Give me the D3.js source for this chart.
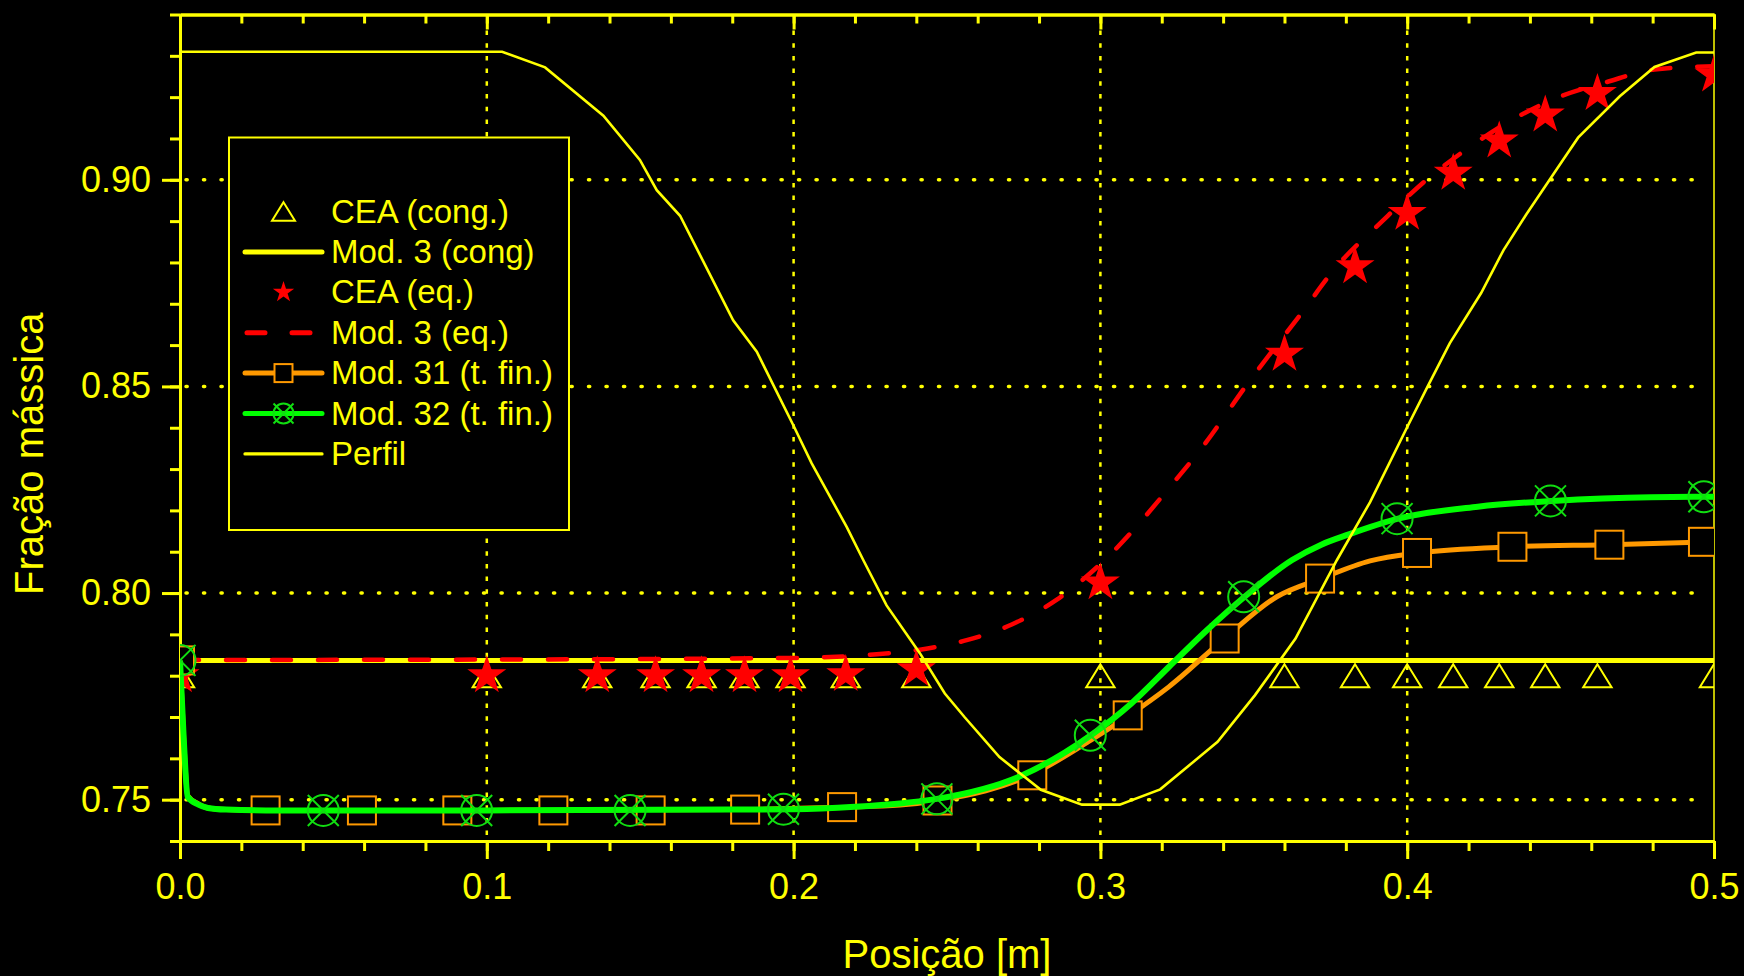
<!DOCTYPE html>
<html>
<head>
<meta charset="utf-8">
<script src="https://cdn.jsdelivr.net/npm/d3@7"></script>
<style>
  body { margin: 0; background: #000; }
  svg { display: block; }
</style>
</head>
<body>
<div id="chart"></div>
<script>
// axis ticks
const xMajorTicks = [0, 0.1, 0.2, 0.3, 0.4, 0.5];
const yMajorTicks = [0.75, 0.80, 0.85, 0.90];
const xGridTicks = [0.1, 0.2, 0.3, 0.4];

// CEA points (same positions for cong. and eq.)
const ceaX = [0, 0.1, 0.136, 0.155, 0.170, 0.184, 0.199, 0.217, 0.240, 0.300, 0.360, 0.383, 0.400, 0.415, 0.430, 0.445, 0.462, 0.500];
const ceaCong = [0.7800, 0.7800, 0.7800, 0.7800, 0.7800, 0.7800, 0.7800, 0.7800, 0.7800, 0.7800, 0.7800, 0.7800, 0.7800, 0.7800, 0.7800, 0.7800, 0.7800, 0.7800];
const ceaEq = [0.7800, 0.7800, 0.7800, 0.7800, 0.7800, 0.7800, 0.7800, 0.7803, 0.7815, 0.8025, 0.8578, 0.8790, 0.8919, 0.9016, 0.9094, 0.9157, 0.9209, 0.9254];

// Mod. 3 (cong)
const mod3CongX = [0, 0.5];
const mod3CongY = [0.7837, 0.7837];

// Mod. 3 (eq.)
const mod3EqX = [0, 0.1, 0.2, 0.2271, 0.2412, 0.2564, 0.2711, 0.2858, 0.3004, 0.3256, 0.3325, 0.3483, 0.3652, 0.3771, 0.3912, 0.4060, 0.4207, 0.4354, 0.4501, 0.4648, 0.4806, 0.5];
const mod3EqY = [0.7838, 0.7839, 0.7843, 0.7852, 0.7863, 0.7886, 0.7924, 0.7984, 0.8073, 0.8283, 0.8346, 0.8510, 0.8674, 0.8791, 0.8895, 0.8998, 0.9081, 0.9150, 0.9202, 0.9236, 0.9267, 0.9275];

// Mod. 31 (t. fin.)
const mod31X = [0, 0.0012, 0.0025, 0.006, 0.0091, 0.015, 0.028, 0.1, 0.18, 0.216, 0.2347, 0.247, 0.2782, 0.2969, 0.3092, 0.3223, 0.3406, 0.3575, 0.3719, 0.3879, 0.4032, 0.4343, 0.4659, 0.5];
const mod31Y = [0.7837, 0.7650, 0.7510, 0.7490, 0.7480, 0.7476, 0.7474, 0.7474, 0.7476, 0.7482, 0.7487, 0.7498, 0.7563, 0.7644, 0.7703, 0.7773, 0.7891, 0.7991, 0.8035, 0.8078, 0.8097, 0.8112, 0.8117, 0.8124];
const mod31MarkX = [0, 0.0279, 0.0593, 0.0904, 0.1217, 0.1534, 0.1842, 0.2158, 0.2469, 0.2778, 0.3089, 0.3405, 0.3716, 0.4032, 0.4343, 0.4659, 0.4964];
const mod31MarkY = [0.7837, 0.7474, 0.7474, 0.7474, 0.7474, 0.7474, 0.7476, 0.7482, 0.7498, 0.7559, 0.7704, 0.7890, 0.8035, 0.8097, 0.8112, 0.8117, 0.8124];

// Mod. 32 (t. fin.)
const mod32X = [0, 0.0012, 0.0025, 0.006, 0.0091, 0.015, 0.028, 0.1, 0.18, 0.2, 0.22, 0.2347, 0.2467, 0.2733, 0.2969, 0.3101, 0.3223, 0.3347, 0.347, 0.3625, 0.372, 0.381, 0.397, 0.423, 0.4473, 0.4795, 0.5];
const mod32Y = [0.7837, 0.7650, 0.7507, 0.7488, 0.7480, 0.7476, 0.7474, 0.7474, 0.7476, 0.7477, 0.7483, 0.7491, 0.7502, 0.7555, 0.7656, 0.7733, 0.7821, 0.7910, 0.7991, 0.8080, 0.8117, 0.8142, 0.8180, 0.8209, 0.8223, 0.8232, 0.8233];
const mod32MarkX = [0, 0.0467, 0.0967, 0.1467, 0.1967, 0.2467, 0.2967, 0.3467, 0.3967, 0.4467, 0.4967];
const mod32MarkY = [0.7837, 0.7474, 0.7474, 0.7474, 0.7477, 0.7502, 0.7656, 0.7991, 0.8180, 0.8223, 0.8233];

// Perfil
const perfilX = [0, 0.105, 0.119, 0.138, 0.1499, 0.1554, 0.163, 0.1803, 0.188, 0.1999, 0.2059, 0.2173, 0.2227, 0.2303, 0.2412, 0.2493, 0.2557, 0.2671, 0.2806, 0.294, 0.3063, 0.3195, 0.3382, 0.3504, 0.3636, 0.3771, 0.3879, 0.4003, 0.4066, 0.4139, 0.4241, 0.4314, 0.4388, 0.4506, 0.4557, 0.4693, 0.4806, 0.4942, 0.5];
const perfilY = [0.9310, 0.9310, 0.9272, 0.9155, 0.9048, 0.8975, 0.8913, 0.8660, 0.8584, 0.8406, 0.8314, 0.8160, 0.8080, 0.7970, 0.7854, 0.7757, 0.7700, 0.7603, 0.7524, 0.7488, 0.7488, 0.7525, 0.7640, 0.7753, 0.7890, 0.8080, 0.8220, 0.8406, 0.8499, 0.8605, 0.8726, 0.8830, 0.8916, 0.9046, 0.9102, 0.9202, 0.9273, 0.9308, 0.9308];

const legendLabels = ["CEA (cong.)", "Mod. 3 (cong)", "CEA (eq.)", "Mod. 3 (eq.)", "Mod. 31 (t. fin.)", "Mod. 32 (t. fin.)", "Perfil"];

const YEL = "#ffff00", RED = "#ff0000", ORA = "#ff9900", GRN = "#00ff00", GRN_M = "#11dd11";
const FONT = "'Liberation Sans', Arial, sans-serif";

const width = 1744, height = 976;
const svg = d3.select("#chart").append("svg")
  .attr("width", width).attr("height", height)
  .style("background", "#000");

const x = d3.scaleLinear().domain([0, 0.5]).range([180, 1714]);
const y = d3.scaleLinear().domain([0.74, 0.94]).range([841, 14.5]);

svg.append("defs").append("clipPath").attr("id", "plot")
  .append("rect")
  .attr("x", x(0)).attr("y", y(0.94))
  .attr("width", x(0.5) - x(0)).attr("height", y(0.74) - y(0.94));

// grid lines
svg.append("g").selectAll("line").data(yMajorTicks).join("line")
  .attr("x1", x(0) + 6).attr("x2", x(0.5) - 12)
  .attr("y1", d => y(d)).attr("y2", d => y(d))
  .attr("stroke", YEL).attr("stroke-width", 3.5)
  .attr("stroke-linecap", "round").attr("stroke-dasharray", "1.2 16.3");

svg.append("g").selectAll("line").data(xGridTicks).join("line")
  .attr("x1", d => x(d)).attr("x2", d => x(d))
  .attr("y1", y(0.94) + 16).attr("y2", y(0.74))
  .attr("stroke", YEL).attr("stroke-width", 2.5)
  .attr("stroke-dasharray", "4.5 8.2");

// axes
const xMinor = d3.range(0, 0.5001, 0.02);
const yMinor = d3.range(0.74, 0.9401, 0.01);

function styleAxis(g, fontSize) {
  g.attr("color", YEL).attr("font-family", FONT).attr("font-size", fontSize);
  g.selectAll("path, line").attr("stroke-width", 3);
}

svg.append("g").attr("transform", `translate(0,${y(0.74)})`)
  .call(d3.axisBottom(x).tickValues(xMinor).tickSize(10).tickSizeOuter(0).tickFormat(""))
  .call(styleAxis, 36);
svg.append("g").attr("transform", `translate(0,${y(0.74)})`)
  .call(d3.axisBottom(x).tickValues(xMajorTicks).tickSize(18).tickSizeOuter(0).tickPadding(14).tickFormat(d3.format(".1f")))
  .call(styleAxis, 36);

svg.append("g").attr("transform", `translate(0,${y(0.94)})`)
  .call(d3.axisBottom(x).tickValues(xMinor).tickSize(9).tickSizeOuter(0).tickFormat(""))
  .call(styleAxis, 36);
svg.append("g").attr("transform", `translate(0,${y(0.94)})`)
  .call(d3.axisBottom(x).tickValues(xMajorTicks).tickSize(15).tickSizeOuter(0).tickFormat(""))
  .call(styleAxis, 36);

svg.append("g").attr("transform", `translate(${x(0)},0)`)
  .call(d3.axisLeft(y).tickValues(yMinor).tickSize(10).tickSizeOuter(0).tickFormat(""))
  .call(styleAxis, 36);
svg.append("g").attr("transform", `translate(${x(0)},0)`)
  .call(d3.axisLeft(y).tickValues(yMajorTicks).tickSize(18).tickSizeOuter(0).tickPadding(11).tickFormat(d3.format(".2f")))
  .call(styleAxis, 36);

svg.append("line")
  .attr("x1", x(0.5)).attr("x2", x(0.5)).attr("y1", y(0.94)).attr("y2", y(0.74))
  .attr("stroke", YEL).attr("stroke-width", 1.5);

// axis titles
svg.append("text")
  .attr("x", (x(0) + x(0.5)) / 2).attr("y", 968)
  .attr("text-anchor", "middle").attr("fill", YEL)
  .attr("font-family", FONT).attr("font-size", 40)
  .text("Posição [m]");
svg.append("text")
  .attr("transform", `translate(43,${(y(0.74) + y(0.94)) / 2 + 26}) rotate(-90)`)
  .attr("text-anchor", "middle").attr("fill", YEL)
  .attr("font-family", FONT).attr("font-size", 40)
  .text("Fração mássica");

// markers
const triPath = s => `M0,${-11 * s}L${13.5 * s},${11 * s}L${-13.5 * s},${11 * s}Z`;
const starPath = r => d3.symbol(d3.symbolStar, (r * r) / 0.8908130915292852)();
const xPath = r => `M${-r},${-r}L${r},${r}M${r},${-r}L${-r},${r}`;

const plot = svg.append("g").attr("clip-path", "url(#plot)");
const pts = (xs, ys) => d3.zip(xs, ys);
const lineLin = d3.line().x(d => x(d[0])).y(d => y(d[1]));
const lineSmooth = d3.line().x(d => x(d[0])).y(d => y(d[1])).curve(d3.curveMonotoneX);

// CEA (cong.)
plot.append("g").selectAll("path").data(pts(ceaX, ceaCong)).join("path")
  .attr("transform", d => `translate(${x(d[0])},${y(d[1])})`)
  .attr("d", triPath(1.05)).attr("fill", "none")
  .attr("stroke", YEL).attr("stroke-width", 2);

// Mod. 3 (cong)
plot.append("path").datum(pts(mod3CongX, mod3CongY))
  .attr("d", lineLin).attr("fill", "none")
  .attr("stroke", YEL).attr("stroke-width", 5);

// CEA (eq.)
plot.append("g").selectAll("path").data(pts(ceaX, ceaEq)).join("path")
  .attr("transform", d => `translate(${x(d[0])},${y(d[1])})`)
  .attr("d", starPath(20.5)).attr("fill", RED);

// Mod. 3 (eq.)
plot.append("path").datum(pts(mod3EqX, mod3EqY))
  .attr("d", lineSmooth).attr("fill", "none")
  .attr("stroke", RED).attr("stroke-width", 4.5)
  .attr("stroke-linecap", "round").attr("stroke-dasharray", "19 27");

// Mod. 31
plot.append("path").datum(pts(mod31X, mod31Y))
  .attr("d", lineSmooth).attr("fill", "none")
  .attr("stroke", ORA).attr("stroke-width", 5);
plot.append("g").selectAll("rect").data(pts(mod31MarkX, mod31MarkY)).join("rect")
  .attr("x", d => x(d[0]) - 14).attr("y", d => y(d[1]) - 14)
  .attr("width", 28).attr("height", 28)
  .attr("fill", "#000").attr("stroke", ORA).attr("stroke-width", 2);

// Mod. 32
plot.append("path").datum(pts(mod32X, mod32Y))
  .attr("d", lineSmooth).attr("fill", "none")
  .attr("stroke", GRN).attr("stroke-width", 6);
const circ = plot.append("g").selectAll("g").data(pts(mod32MarkX, mod32MarkY)).join("g")
  .attr("transform", d => `translate(${x(d[0])},${y(d[1])})`);
circ.append("circle").attr("r", 15.5).attr("fill", "none").attr("stroke", GRN_M).attr("stroke-width", 2);
circ.append("path").attr("d", xPath(15.5)).attr("stroke", GRN_M).attr("stroke-width", 2);

// Perfil
plot.append("path").datum(pts(perfilX, perfilY))
  .attr("d", lineLin).attr("fill", "none")
  .attr("stroke", YEL).attr("stroke-width", 2.6);

// legend
const leg = svg.append("g");
leg.append("rect")
  .attr("x", 229).attr("y", 137.5).attr("width", 340).attr("height", 392.5)
  .attr("fill", "#000").attr("stroke", YEL).attr("stroke-width", 2);

const rowY = i => 222.5 + i * 40.4;
leg.selectAll("text").data(legendLabels).join("text")
  .attr("x", 331).attr("y", (d, i) => rowY(i))
  .attr("fill", YEL).attr("font-family", FONT).attr("font-size", 33)
  .text(d => d);

const sx0 = 245, sx1 = 322, sxc = 283.5, off = -11;
leg.append("path").attr("transform", `translate(${sxc},${rowY(0) + off})`)
  .attr("d", triPath(0.85)).attr("fill", "none").attr("stroke", YEL).attr("stroke-width", 2);
leg.append("line").attr("x1", sx0).attr("x2", sx1).attr("y1", rowY(1) + off).attr("y2", rowY(1) + off)
  .attr("stroke", YEL).attr("stroke-width", 5).attr("stroke-linecap", "round");
leg.append("path").attr("transform", `translate(${sxc},${rowY(2) + off})`)
  .attr("d", starPath(11.2)).attr("fill", RED);
leg.append("line").attr("x1", sx0 + 2).attr("x2", sx1).attr("y1", rowY(3) + off).attr("y2", rowY(3) + off)
  .attr("stroke", RED).attr("stroke-width", 5).attr("stroke-linecap", "round").attr("stroke-dasharray", "18 27");
leg.append("line").attr("x1", sx0).attr("x2", sx1).attr("y1", rowY(4) + off).attr("y2", rowY(4) + off)
  .attr("stroke", ORA).attr("stroke-width", 5).attr("stroke-linecap", "round");
leg.append("rect").attr("x", sxc - 9).attr("y", rowY(4) + off - 9).attr("width", 18).attr("height", 18)
  .attr("fill", "#000").attr("stroke", ORA).attr("stroke-width", 2);
leg.append("line").attr("x1", sx0).attr("x2", sx1).attr("y1", rowY(5) + off).attr("y2", rowY(5) + off)
  .attr("stroke", GRN).attr("stroke-width", 5).attr("stroke-linecap", "round");
leg.append("circle").attr("cx", sxc).attr("cy", rowY(5) + off).attr("r", 10)
  .attr("fill", "none").attr("stroke", GRN_M).attr("stroke-width", 2);
leg.append("path").attr("transform", `translate(${sxc},${rowY(5) + off})`)
  .attr("d", xPath(10)).attr("stroke", GRN_M).attr("stroke-width", 2);
leg.append("line").attr("x1", sx0).attr("x2", sx1).attr("y1", rowY(6) + off).attr("y2", rowY(6) + off)
  .attr("stroke", YEL).attr("stroke-width", 3.3).attr("stroke-linecap", "round");
</script>
</body>
</html>
